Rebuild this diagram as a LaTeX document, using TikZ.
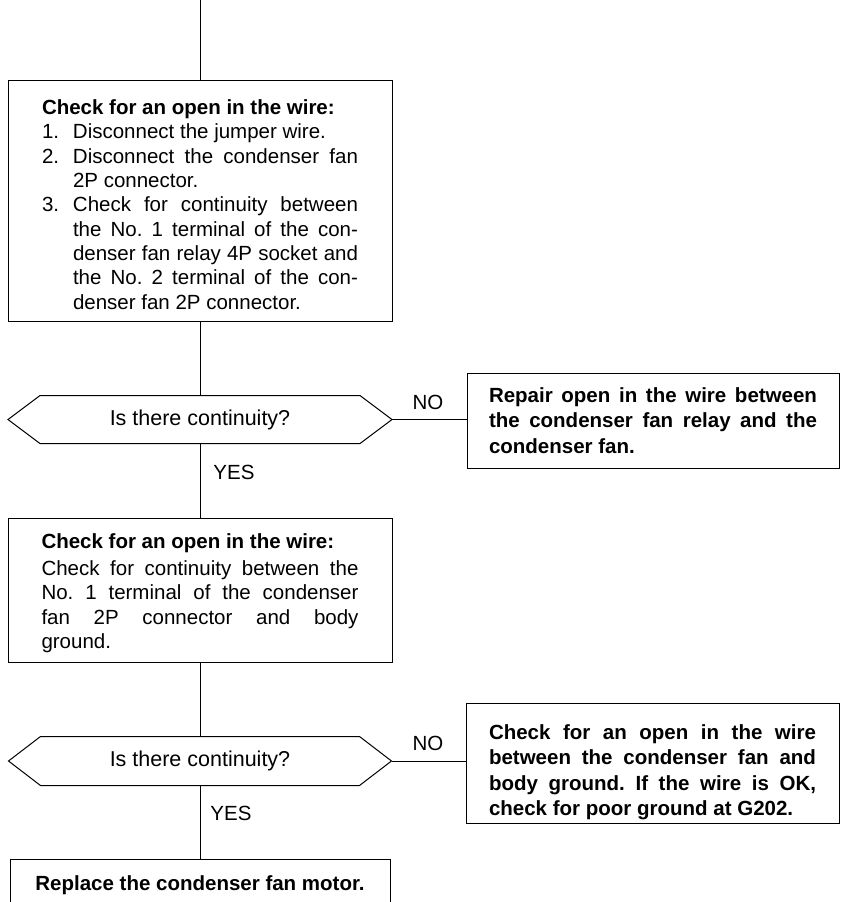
\documentclass[tikz,border=0pt]{standalone}
\usepackage{fontspec}
\setmainfont{Liberation Sans}
\hyphenpenalty=10000
\exhyphenpenalty=10000
\tolerance=9999
\frenchspacing
\newcommand\myitem[1]{\par\noindent\hangindent=31pt\hangafter=1\makebox[31pt][l]{#1}}
\begin{document}
\begin{tikzpicture}[x=1pt,y=-1pt,
  line width=1pt,
  every node/.style={font=\fontsize{20.5}{24.3}\selectfont},
  frame/.style={draw, rectangle, inner sep=0pt},
  txt/.style={align=justify, inner sep=0pt},
  boldtxt/.style={txt, font=\fontsize{20.5}{25.5}\selectfont\bfseries},
  lbl/.style={inner sep=0pt},
  decnode/.style={minimum width=383pt, minimum height=47pt, inner sep=0pt,
    font=\fontsize{21.5}{25}\selectfont}]
\useasboundingbox (0,0) rectangle (841,902);
\clip (0,0) rectangle (841,902);

\coordinate (top) at (200,0);

% box 1
\node[frame, minimum width=384pt, minimum height=241pt] (b1) at (200,200.5) {};
\node[txt, text width=316pt] (t1) at ([yshift=-4pt]b1.center)
{\noindent\textbf{Check for an open in the wire:}
\myitem{1.}Disconnect the jumper wire.
\myitem{2.}Disconnect the condenser fan\linebreak 2P connector.
\myitem{3.}Check for continuity between\linebreak the No. 1 terminal of the con-\linebreak denser fan relay 4P socket and\linebreak the No. 2 terminal of the con-\linebreak denser fan 2P connector.\par};

% decision 1
\node[decnode] (d1) at (200,419.5) {Is there continuity?};
\draw (d1.west) -- ([xshift=32pt]d1.north west) -- ([xshift=-32pt]d1.north east)
  -- (d1.east) -- ([xshift=-32pt]d1.south east) -- ([xshift=32pt]d1.south west) -- cycle;

% box 2
\node[frame, minimum width=372pt, minimum height=95pt] (b2) at (653,420.5) {};
\node[boldtxt, text width=328pt] (t2) at (b2.center)
{Repair open in the wire between\linebreak the condenser fan relay and the\linebreak condenser fan.};

% box 3
\node[frame, minimum width=384pt, minimum height=144pt] (b3) at (200,590) {};
\node[txt, text width=317pt] (t3) at ([yshift=-3pt]b3.center)
{\noindent\textbf{Check for an open in the wire:}\par\vspace{3pt}\noindent
Check for continuity between the\linebreak No. 1 terminal of the condenser\linebreak fan 2P connector and body\linebreak ground.};

% decision 2
\node[decnode, minimum width=382pt, minimum height=48pt] (d2) at (200,761) {Is there continuity?};
\draw (d2.west) -- ([xshift=32pt]d2.north west) -- ([xshift=-32pt]d2.north east)
  -- (d2.east) -- ([xshift=-32pt]d2.south east) -- ([xshift=32pt]d2.south west) -- cycle;

% box 4
\node[frame, minimum width=373pt, minimum height=120pt] (b4) at (652.5,763) {};
\node[boldtxt, text width=327pt] (t4) at ([yshift=-9pt]b4.center)
{Check for an open in the wire\linebreak between the condenser fan and\linebreak body ground. If the wire is OK,\linebreak check for poor ground at G202.};

% box 5
\node[draw, rectangle, anchor=north, minimum width=380pt, inner ysep=16pt,
  text height=15pt, text depth=5pt, font=\fontsize{20.5}{24.5}\selectfont\bfseries] (b5) at (200,859)
{Replace the condenser fan motor.};

% labels
\node[lbl] (no1) at (428,402) {NO};
\node[lbl] (yes1) at (234,472) {YES};
\node[lbl] (no2) at (428,743) {NO};
\node[lbl] (yes2) at (231,813) {YES};

% connectors
\draw (top) -- (b1);
\draw (b1) -- (d1);
\draw (d1.east) -- (d1.east -| b2.west);
\draw (d1) -- (b3);
\draw (b3) -- (d2);
\draw (d2.east) -- (d2.east -| b4.west);
\draw (d2) -- (b5);
\end{tikzpicture}
\end{document}
